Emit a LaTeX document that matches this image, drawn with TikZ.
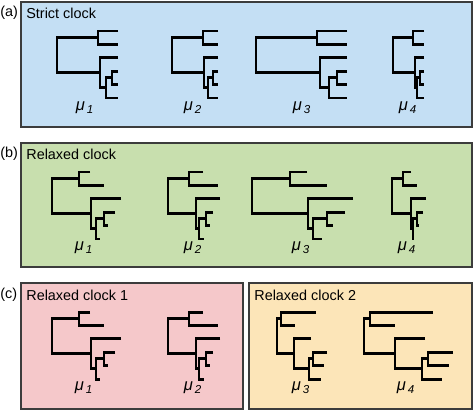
\documentclass[tikz,border=0pt]{standalone}
\usepackage{fontspec}
\setmainfont{Liberation Sans}
\definecolor{strictbg}{HTML}{C4DFF4}
\definecolor{relaxbg}{HTML}{C8DFAE}
\definecolor{relaxonebg}{HTML}{F5C8CA}
\definecolor{relaxtwobg}{HTML}{FCE5B8}
\definecolor{frame}{HTML}{3C3C3C}
% one tree: #1 top tip y, #2 inner nodes R/P/Q/N2/N3, #3 tips A/B/C/D/E/F
\newcommand\phylo[3]{%
\foreach \r/\p/\q/\nb/\nc in {#2}{%
\foreach \ta/\tb/\tc/\td/\te/\tf in {#3}{%
\draw[branch] (\ta,#1) -- (\p,#1) -- (\p,{#1+13.4}) -- (\tb,{#1+13.4});
\draw[branch] (\td,{#1+3*13.4}) -- (\nc,{#1+3*13.4}) -- (\nc,{#1+4*13.4}) -- (\te,{#1+4*13.4});
\draw[branch] (\nc,{#1+3.5*13.4}) -- (\nb,{#1+3.5*13.4}) -- (\nb,{#1+5*13.4}) -- (\tf,{#1+5*13.4});
\draw[branch] (\tc,{#1+2*13.4}) -- (\q,{#1+2*13.4}) -- (\q,{#1+4.25*13.4}) -- (\nb,{#1+4.25*13.4});
\draw[branch] (\p,{#1+0.5*13.4}) -- (\r,{#1+0.5*13.4}) -- (\r,{#1+3.125*13.4}) -- (\q,{#1+3.125*13.4});
}}}
\tikzset{
  panel/.style={draw=frame, line width=0.75pt},
  branch/.style={line width=1.7pt, black},
  title/.style={anchor=west, inner sep=0pt, font=\fontsize{8.2}{10}\selectfont},
  rate/.style={inner sep=0pt, font=\fontsize{9.4}{11}\selectfont}
}
\newcommand\mylab[1]{\textit{μ}\textsubscript{\,\textit{#1}}}
\begin{document}
\begin{tikzpicture}[x=0.02cm, y=-0.02cm]
\useasboundingbox (0,0) rectangle (474,410);
% panels
\draw[panel, fill=strictbg] (21,2) rectangle (472,127);
\draw[panel, fill=relaxbg] (21,143) rectangle (472,267);
\draw[panel, fill=relaxonebg] (21,283) rectangle (243,409);
\draw[panel, fill=relaxtwobg] (249,283) rectangle (472,409);
\node[title] (la) at (0,13) {(a)};
\node[title] (ta) at (26,13) {Strict clock};
\node[title] (lb) at (0,154) {(b)};
\node[title] (tb) at (26,154) {Relaxed clock};
\node[title] (lc) at (0,295) {(c)};
\node[title] (tc1) at (26,295) {Relaxed clock 1};
\node[title] (tc2) at (254,295) {Relaxed clock 2};
% (a) strict
\phylo{31}{57/98/100/106/112}{118/118/118/118/118/118}
\phylo{31}{172/203/204/208/213}{218/218/218/218/218/218}
\phylo{31}{256/317/320/329/337}{347/347/347/347/347/347}
\phylo{31}{393/413/415/417/420}{424/424/424/424/424/424}
\node[rate] (ma1) at (85,108) {\mylab{1}};
\node[rate] (ma2) at (193,108) {\mylab{2}};
\node[rate] (ma3) at (302,108) {\mylab{3}};
\node[rate] (ma4) at (408,108) {\mylab{4}};
% (b) relaxed
\phylo{172}{52/79/91/96/104}{90/104/121/115/108/100}
\phylo{172}{168/189/196/199/206}{203/218/220/213/210/204}
\phylo{172}{252/290/308/313/327}{307/327/353/345/333/322}
\phylo{172}{392/403/411/413/417}{411/417/426/423/419/414}
\node[rate] (mb1) at (84,248) {\mylab{1}};
\node[rate] (mb2) at (193,248) {\mylab{2}};
\node[rate] (mb3) at (301,248) {\mylab{3}};
\node[rate] (mb4) at (407,248) {\mylab{4}};
% (c) two clocks
\phylo{312}{52/79/91/96/104}{90/104/121/115/108/100}
\phylo{312}{168/189/196/199/206}{203/218/220/213/210/204}
\phylo{312}{277/281/294/309/313}{316/295/311/327/324/321}
\phylo{312}{364/370/395/422/428}{433/395/425/453/449/442}
\node[rate] (mc1) at (84,388) {\mylab{1}};
\node[rate] (mc2) at (193,388) {\mylab{2}};
\node[rate] (mc3) at (301,388) {\mylab{3}};
\node[rate] (mc4) at (406,388) {\mylab{4}};
\end{tikzpicture}
\end{document}
